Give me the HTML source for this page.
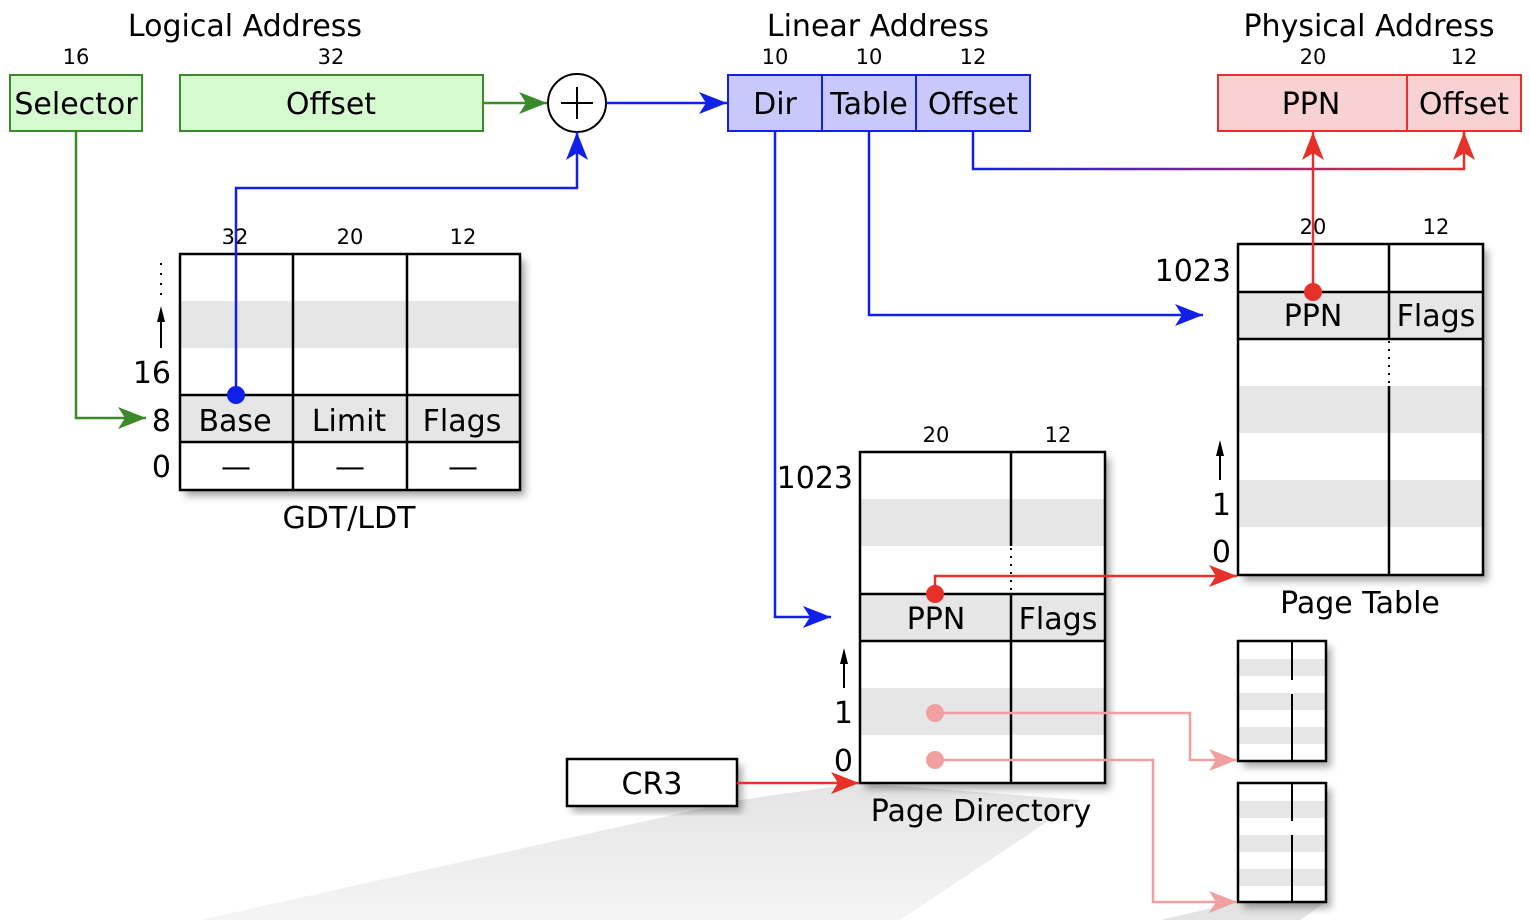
<!DOCTYPE html>
<html><head><meta charset="utf-8"><style>
html,body{margin:0;padding:0;background:#fff;}
svg{display:block;font-family:"DejaVu Sans","Liberation Sans",sans-serif;}
</style></head><body>
<svg width="1530" height="920" viewBox="0 0 1530 920" xmlns="http://www.w3.org/2000/svg">
<defs>
<marker id="ab" markerWidth="28" markerHeight="22" refX="28" refY="11" orient="auto" markerUnits="userSpaceOnUse"><path d="M0,0 L28,11 L0,22 L7,11z" fill="#1020e8"/></marker>
<marker id="agr" markerWidth="28" markerHeight="22" refX="28" refY="11" orient="auto" markerUnits="userSpaceOnUse"><path d="M0,0 L28,11 L0,22 L7,11z" fill="#3a8a2a"/></marker>
<marker id="ar" markerWidth="28" markerHeight="22" refX="28" refY="11" orient="auto" markerUnits="userSpaceOnUse"><path d="M0,0 L28,11 L0,22 L7,11z" fill="#e8302a"/></marker>
<marker id="ap" markerWidth="28" markerHeight="22" refX="28" refY="11" orient="auto" markerUnits="userSpaceOnUse"><path d="M0,0 L28,11 L0,22 L7,11z" fill="#f0a0a0"/></marker>
<linearGradient id="gr" x1="973" y1="0" x2="1464" y2="0" gradientUnits="userSpaceOnUse"><stop offset="0" stop-color="#1020e8"/><stop offset="1" stop-color="#e8302a"/></linearGradient>
<filter id="sh" x="-10%" y="-10%" width="130%" height="130%"><feDropShadow dx="5" dy="6" stdDeviation="4" flood-color="#000" flood-opacity="0.35"/></filter>
<linearGradient id="fan" x1="0" y1="0" x2="0" y2="1"><stop offset="0" stop-color="#d8d8d8"/><stop offset="1" stop-color="#f0f0f0"/></linearGradient>
</defs>
<polygon points="200,920 740,800 860,783 1080,800 900,920" fill="url(#fan)" opacity="0.7"/>
<polygon points="1160,920 1238,902 1326,902 1300,920" fill="#e4e4e4"/>

<g font-size="30" text-anchor="middle" fill="#000">
<text x="245" y="36">Logical Address</text>
<text x="878" y="36">Linear Address</text>
<text x="1369" y="36">Physical Address</text>
</g>
<g font-size="21" text-anchor="middle">
<text x="76" y="64">16</text><text x="331" y="64">32</text>
<text x="775" y="64">10</text><text x="869" y="64">10</text><text x="973" y="64">12</text>
<text x="1313" y="64">20</text><text x="1464" y="64">12</text>
</g>
<g fill="#d6fad0" stroke="#3a8a2a" stroke-width="2">
<rect x="10" y="75" width="132" height="56"/><rect x="180" y="75" width="303" height="56"/>
</g>
<g font-size="30" text-anchor="middle">
<text x="76" y="114">Selector</text><text x="331" y="114">Offset</text>
</g>
<line x1="483" y1="103" x2="547" y2="103" stroke="#3a8a2a" stroke-width="2.5" marker-end="url(#agr)"/>
<circle cx="577" cy="103" r="29" fill="#fff" stroke="#000" stroke-width="2"/>
<path d="M561,103 H593 M577,87 V119" stroke="#000" stroke-width="2"/>
<line x1="606" y1="103" x2="727" y2="103" stroke="#1020e8" stroke-width="2.5" marker-end="url(#ab)"/>
<g fill="#c8c8fa" stroke="#1020e8" stroke-width="2">
<rect x="728" y="75" width="94" height="56"/><rect x="822" y="75" width="94" height="56"/><rect x="916" y="75" width="114" height="56"/>
</g>
<g font-size="30" text-anchor="middle">
<text x="775" y="114">Dir</text><text x="869" y="114">Table</text><text x="973" y="114">Offset</text>
</g>
<g fill="#f8d2d2" stroke="#e8302a" stroke-width="2">
<rect x="1218" y="75" width="189" height="56"/><rect x="1407" y="75" width="114" height="56"/>
</g>
<g font-size="30" text-anchor="middle">
<text x="1311" y="114">PPN</text><text x="1464" y="114">Offset</text>
</g>

<g filter="url(#sh)"><rect x="180" y="254" width="340" height="236" fill="#fff"/></g>
<rect x="181" y="301" width="338" height="47" fill="#e6e6e6"/>
<rect x="181" y="395" width="338" height="47" fill="#e6e6e6"/>
<g stroke="#000" stroke-width="2.5" fill="none">
<rect x="180" y="254" width="340" height="236"/>
<path d="M293,254 V490 M407,254 V490 M180,395 H520 M180,442 H520"/>
</g>
<g font-size="21" text-anchor="middle"><text x="235" y="244">32</text><text x="350" y="244">20</text><text x="463" y="244">12</text></g>
<g font-size="30" text-anchor="middle">
<text x="235" y="431">Base</text><text x="349" y="431">Limit</text><text x="462" y="431">Flags</text>
<text x="236" y="477">—</text><text x="350" y="477">—</text><text x="463" y="477">—</text>
<text x="349" y="528">GDT/LDT</text>
</g>
<g font-size="30" text-anchor="end">
<text x="171" y="383">16</text><text x="171" y="431">8</text><text x="171" y="477">0</text>
</g>
<path d="M161,263 V297" stroke="#000" stroke-width="2" stroke-dasharray="2,8"/>
<line x1="161" y1="348" x2="161" y2="314" stroke="#000" stroke-width="2"/><path d="M161,306 L157,322 L165,322z"/>
<path d="M76,131 V418 H146" fill="none" stroke="#3a8a2a" stroke-width="2.5" marker-end="url(#agr)"/>
<path d="M236,395 V188 H577 V132" fill="none" stroke="#1020e8" stroke-width="2.5" marker-end="url(#ab)"/>
<circle cx="236" cy="395" r="9" fill="#1020e8"/>

<g filter="url(#sh)"><rect x="860" y="452" width="245" height="331" fill="#fff"/></g>
<rect x="861" y="499" width="243" height="47" fill="#e6e6e6"/>
<rect x="861" y="594" width="243" height="47" fill="#e6e6e6"/>
<rect x="861" y="688" width="243" height="47" fill="#e6e6e6"/>
<g stroke="#000" stroke-width="2.5" fill="none">
<rect x="860" y="452" width="245" height="331"/>
<path d="M1011,452 V546 M1011,594 V783 M860,594 H1105 M860,641 H1105"/>
</g>
<path d="M1011,548 V592" stroke="#000" stroke-width="2" stroke-dasharray="2,6"/>
<g font-size="21" text-anchor="middle"><text x="936" y="442">20</text><text x="1058" y="442">12</text></g>
<g font-size="30" text-anchor="middle">
<text x="936" y="629">PPN</text><text x="1058" y="629">Flags</text>
<text x="981" y="821">Page Directory</text>
</g>
<g font-size="30" text-anchor="end">
<text x="853" y="488">1023</text><text x="853" y="723">1</text><text x="853" y="771">0</text>
</g>
<line x1="844" y1="688" x2="844" y2="656" stroke="#000" stroke-width="2"/><path d="M844,648 L840,664 L848,664z"/>

<g filter="url(#sh)"><rect x="1238" y="244" width="245" height="331" fill="#fff"/></g>
<rect x="1239" y="292" width="243" height="47" fill="#e6e6e6"/>
<rect x="1239" y="386" width="243" height="47" fill="#e6e6e6"/>
<rect x="1239" y="480" width="243" height="47" fill="#e6e6e6"/>
<g stroke="#000" stroke-width="2.5" fill="none">
<rect x="1238" y="244" width="245" height="331"/>
<path d="M1389,244 V339 M1389,386 V575 M1238,292 H1483 M1238,339 H1483"/>
</g>
<path d="M1389,341 V384" stroke="#000" stroke-width="2" stroke-dasharray="2,6"/>
<g font-size="21" text-anchor="middle"><text x="1313" y="234">20</text><text x="1436" y="234">12</text></g>
<g font-size="30" text-anchor="middle">
<text x="1313" y="326">PPN</text><text x="1436" y="326">Flags</text>
<text x="1360" y="613">Page Table</text>
</g>
<g font-size="30" text-anchor="end">
<text x="1231" y="281">1023</text><text x="1231" y="515">1</text><text x="1231" y="562">0</text>
</g>
<line x1="1220" y1="480" x2="1220" y2="448" stroke="#000" stroke-width="2"/><path d="M1220,440 L1216,456 L1224,456z"/>

<g>
<g filter="url(#sh)"><rect x="1238" y="641" width="88" height="120" fill="#fff"/></g>
<rect x="1239" y="659" width="86" height="17" fill="#e6e6e6"/><rect x="1239" y="693" width="86" height="17" fill="#e6e6e6"/><rect x="1239" y="727" width="86" height="17" fill="#e6e6e6"/>
<rect x="1238" y="641" width="88" height="120" fill="none" stroke="#000" stroke-width="2.5"/>
<path d="M1292,641 V680 M1292,694 V761" stroke="#000" stroke-width="2"/>
<g filter="url(#sh)"><rect x="1238" y="783" width="88" height="119" fill="#fff"/></g>
<rect x="1239" y="801" width="86" height="17" fill="#e6e6e6"/><rect x="1239" y="835" width="86" height="17" fill="#e6e6e6"/><rect x="1239" y="869" width="86" height="17" fill="#e6e6e6"/>
<rect x="1238" y="783" width="88" height="119" fill="none" stroke="#000" stroke-width="2.5"/>
<path d="M1292,783 V821 M1292,835 V902" stroke="#000" stroke-width="2"/>
</g>

<g filter="url(#sh)"><rect x="567" y="759" width="170" height="47" fill="#fff"/></g>
<rect x="567" y="759" width="170" height="47" fill="none" stroke="#000" stroke-width="2.5"/>
<text x="652" y="794" font-size="30" text-anchor="middle">CR3</text>
<line x1="737" y1="783" x2="859" y2="783" stroke="#e8302a" stroke-width="2.5" marker-end="url(#ar)"/>

<path d="M775,131 V617 H831" fill="none" stroke="#1020e8" stroke-width="2.5" marker-end="url(#ab)"/>
<path d="M869,131 V315 H1203" fill="none" stroke="#1020e8" stroke-width="2.5" marker-end="url(#ab)"/>
<path d="M973,131 V169 H1464 V132" fill="none" stroke="url(#gr)" stroke-width="2.5"/>
<path d="M1464,150 V132" stroke="#e8302a" stroke-width="2.5" marker-end="url(#ar)"/>
<path d="M935,594 V576 H1237" fill="none" stroke="#e8302a" stroke-width="2.5" marker-end="url(#ar)"/>
<circle cx="935" cy="594" r="9" fill="#e8302a"/>
<path d="M1313,292 V132" stroke="#e8302a" stroke-width="2.5" marker-end="url(#ar)"/>
<circle cx="1313" cy="292" r="9" fill="#e8302a"/>
<path d="M935,713 H1190 V760 H1237" fill="none" stroke="#f0a0a0" stroke-width="2.5" marker-end="url(#ap)"/>
<path d="M935,760 H1153 V902 H1237" fill="none" stroke="#f0a0a0" stroke-width="2.5" marker-end="url(#ap)"/>
<circle cx="935" cy="713" r="9" fill="#f0a0a0"/><circle cx="935" cy="760" r="9" fill="#f0a0a0"/>
</svg>
</body></html>
